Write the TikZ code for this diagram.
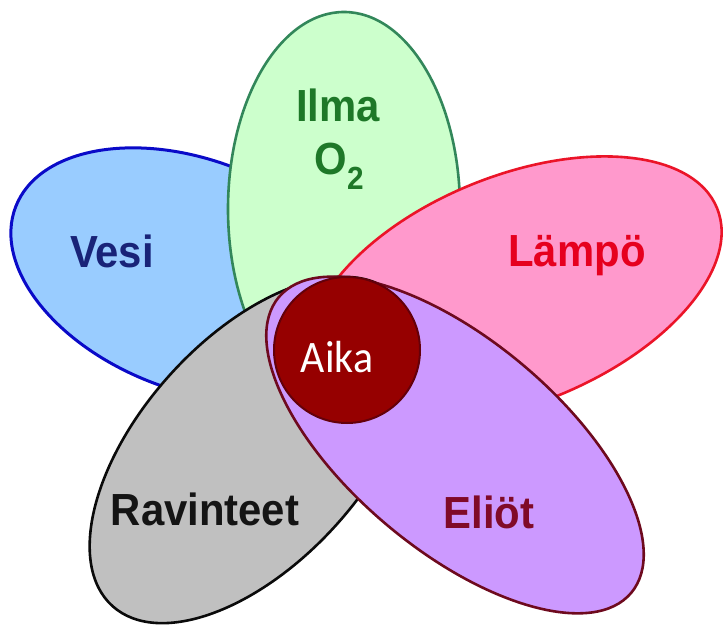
\documentclass[tikz,border=0pt]{standalone}
\usepackage{fontspec}
\usetikzlibrary{shapes.geometric}
\newfontfamily\petalfont{Liberation Sans}[FakeStretch=0.93]
\newfontfamily\aikafont{Carlito}[FakeStretch=0.93]

% petal fills, outlines and label colours
\definecolor{vesifill}{RGB}{153,204,255}
\definecolor{vesiline}{RGB}{10,10,200}
\definecolor{vesitext}{RGB}{25,35,120}
\definecolor{ilmafill}{RGB}{204,255,204}
\definecolor{ilmaline}{RGB}{50,135,90}
\definecolor{ilmatext}{RGB}{30,120,40}
\definecolor{lampofill}{RGB}{255,153,204}
\definecolor{lampoline}{RGB}{235,20,40}
\definecolor{lampotext}{RGB}{230,0,30}
\definecolor{ravfill}{RGB}{192,192,192}
\definecolor{ravline}{RGB}{10,10,10}
\definecolor{ravtext}{RGB}{20,20,20}
\definecolor{eliofill}{RGB}{204,153,255}
\definecolor{elioline}{RGB}{110,10,30}
\definecolor{eliotext}{RGB}{128,10,40}
\definecolor{aikafill}{RGB}{150,0,0}
\definecolor{aikaline}{RGB}{100,0,10}

\begin{document}
\begin{tikzpicture}[x=1pt,y=-1pt,
  petal/.style={ellipse, draw, line width=2.6pt, inner sep=0pt, outer sep=0pt},
  petaltext/.style={anchor=base, inner sep=0pt,
    font=\petalfont\bfseries\fontsize{45}{50}\selectfont}]
  \fill[white] (0,0) rectangle (723,628);
  \useasboundingbox (0,0) rectangle (723,628);

  % the five petals, back to front
  \node[petal, draw=vesiline, fill=vesifill, line width=3pt,
        minimum width=380pt, minimum height=230pt, rotate=-21] (vesi) at (193,275) {};
  \node[petal, draw=ilmaline, fill=ilmafill,
        minimum width=232pt, minimum height=394pt] (ilma) at (344,209) {};
  \node[petal, draw=lampoline, fill=lampofill,
        minimum width=436pt, minimum height=228pt, rotate=22] (lampo) at (515,290) {};
  \node[petal, draw=ravline, fill=ravfill,
        minimum width=420pt, minimum height=224pt, rotate=48] (rav) at (253,450) {};
  \node[petal, draw=elioline, fill=eliofill,
        minimum width=460pt, minimum height=210pt, rotate=-40] (elio) at (455,445) {};

  % centre disc
  \node[circle, draw=aikaline, fill=aikafill, line width=2pt, inner sep=0pt,
        minimum size=146pt] (aika) at (347,350) {};

  % labels
  \node[petaltext, text=vesitext] (vesilabel) at (112,268) {Vesi};
  \node[petaltext, text=ilmatext] (ilmalabel) at (338,122) {Ilma};
  \node[petaltext, text=ilmatext] (o2label) at (339,175)
       {O\raisebox{-15pt}{\fontsize{32}{32}\selectfont 2}};
  \node[petaltext, text=lampotext] (lampolabel) at (577,267) {Lämpö};
  \node[petaltext, text=ravtext] (ravlabel) at (205,525) {Ravinteet};
  \node[petaltext, text=eliotext] (eliolabel) at (489,528) {Eliöt};
  \node[anchor=base, inner sep=0pt, text=white,
        font=\aikafont\fontsize{45}{50}\selectfont] (aikalabel) at (337,372) {Aika};
\end{tikzpicture}
\end{document}
